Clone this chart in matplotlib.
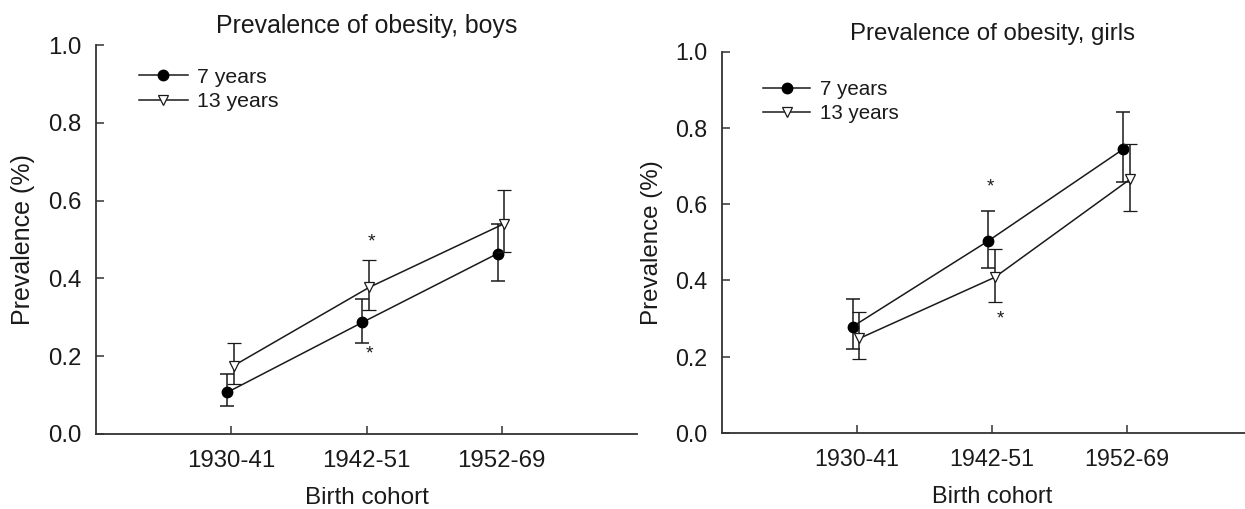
import matplotlib
matplotlib.use("Agg")
import matplotlib.pyplot as plt
from matplotlib.lines import Line2D

plt.rcParams['font.family'] = ['Liberation Sans', 'DejaVu Sans']

cohorts = ["1930-41", "1942-51", "1952-69"]
series_labels = ["7 years", "13 years"]

# Boys
boys_7 = [0.107, 0.287, 0.464]
boys_7_lo = [0.073, 0.235, 0.393]
boys_7_hi = [0.154, 0.347, 0.541]
boys_13 = [0.176, 0.377, 0.541]
boys_13_lo = [0.128, 0.318, 0.467]
boys_13_hi = [0.233, 0.448, 0.626]
boys_star_y = [0.493, 0.206]

# Girls
girls_7 = [0.279, 0.503, 0.744]
girls_7_lo = [0.220, 0.433, 0.657]
girls_7_hi = [0.350, 0.581, 0.841]
girls_13 = [0.248, 0.408, 0.665]
girls_13_lo = [0.193, 0.344, 0.582]
girls_13_hi = [0.316, 0.481, 0.757]
girls_star_y = [0.644, 0.299]

yticks = [0.0, 0.2, 0.4, 0.6, 0.8, 1.0]

W, H = 1245, 509
fig = plt.figure(figsize=(W / 100, H / 100), dpi=100)

dark = "#1a1a1a"
spine_c = "#333333"


def panel(rect, title, s7, lo7, hi7, s13, lo13, hi13, star_y, star_dx, leg_xy, s):
    ax = fig.add_axes(rect)
    x = [i + 1 for i in range(len(cohorts))]
    x7 = [v - 0.03 for v in x]
    x13 = [v + 0.02 for v in x]
    e7 = [[a - b for a, b in zip(s7, lo7)], [b - a for a, b in zip(s7, hi7)]]
    e13 = [[a - b for a, b in zip(s13, lo13)], [b - a for a, b in zip(s13, hi13)]]
    ax.errorbar(x7, s7, yerr=e7, color=dark, lw=1.1, marker='o', ms=7.5,
                mfc='black', mec='black', capsize=5, capthick=1.1, elinewidth=1.1, zorder=3)
    ax.errorbar(x13, s13, yerr=e13, color=dark, lw=1.1, marker='v', ms=7.5,
                mfc='white', mec=dark, mew=0.9, capsize=5, capthick=1.1, elinewidth=1.1, zorder=4)
    # significance asterisks at middle cohort
    for yy, dx in zip(star_y, star_dx):
        ax.text(x[1] + dx, yy, "*", ha='center', va='center', fontsize=14 * s, color=dark)
    ax.set_xlim(0, 4)
    ax.set_ylim(0, 1.0)
    ax.set_xticks(x)
    ax.set_xticklabels(cohorts)
    ax.set_yticks(yticks)
    ax.set_yticklabels([f"{v:.1f}" for v in yticks])
    for sp in ['top', 'right']:
        ax.spines[sp].set_visible(False)
    for sp in ['left', 'bottom']:
        ax.spines[sp].set_color(spine_c)
        ax.spines[sp].set_linewidth(1.3)
    ax.tick_params(axis='both', direction='in', length=6, width=1.1, color=spine_c,
                   labelsize=17.3 * s, labelcolor=dark)
    ax.tick_params(axis='y', pad=10.3 * s)
    ax.tick_params(axis='x', pad=11.5 * s)
    ax.set_ylabel("Prevalence (%)", fontsize=18 * s, color=dark, labelpad=9.5 * s)
    ax.set_xlabel("Birth cohort", fontsize=17.5 * s, color=dark, labelpad=10.5 * s)
    ax.set_title(title, fontsize=17.9 * s, color=dark, pad=8.8 * s)
    handles = [
        Line2D([], [], color=dark, lw=1.1, marker='o', ms=7.5, mfc='black', mec='black'),
        Line2D([], [], color=dark, lw=1.1, marker='v', ms=7.5, mfc='white', mec=dark, mew=0.9),
    ]
    ax.legend(handles, series_labels, loc='center left', bbox_to_anchor=leg_xy,
              frameon=False, fontsize=15.3 * s, handlelength=2.3, handletextpad=0.45,
              labelspacing=0.25, borderpad=0, borderaxespad=0, labelcolor=dark)
    ax.patch.set_alpha(0)
    return ax


panel([96 / W, 1 - 434 / H, 541 / W, 389 / H], "Prevalence of obesity, boys",
      boys_7, boys_7_lo, boys_7_hi, boys_13, boys_13_lo, boys_13_hi,
      boys_star_y, [0.036, 0.025], (0.0795, 0.886), 1.0)
panel([721.5 / W, 1 - 433 / H, 541 / W, 381.5 / H], "Prevalence of obesity, girls",
      girls_7, girls_7_lo, girls_7_hi, girls_13, girls_13_lo, girls_13_hi,
      girls_star_y, [-0.01, 0.06], (0.077, 0.868), 0.967)

fig.savefig("out.png", dpi=100)
